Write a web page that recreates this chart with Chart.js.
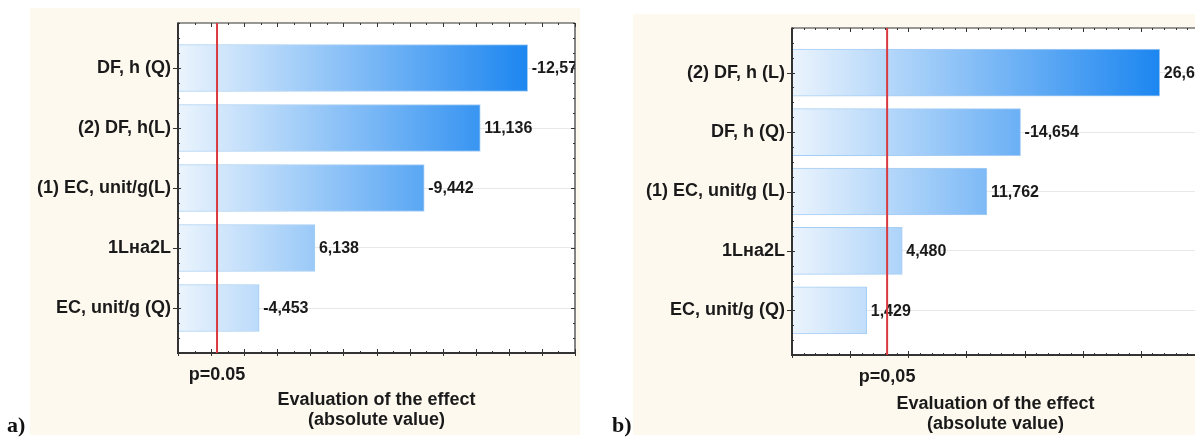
<!DOCTYPE html>
<html>
<head>
<meta charset="utf-8">
<script src="https://cdn.jsdelivr.net/npm/chart.js@4.4.1/dist/chart.umd.min.js"></script>
<style>
  html, body { margin: 0; padding: 0; background: #fff; overflow: hidden; }
  body { width: 1195px; height: 439px; position: relative; }
  .panel { position: absolute; background: #fdf9ef; }
  #bgA { left: 30px; top: 8px; width: 550px; height: 427px; }
  #bgB { left: 633px; top: 14px; width: 562px; height: 421px; }
  .wrap { position: absolute; top: 0; height: 439px; }
  #wrapA { left: 0; width: 590px; }
  #wrapB { left: 600px; width: 640px; }
  .tag { position: absolute; top: 412px; font: bold 22px "Liberation Serif", "Times New Roman", serif; color: #111; }
</style>
</head>
<body>
<div class="panel" id="bgA"></div>
<div class="panel" id="bgB"></div>
<div class="wrap" id="wrapA"><canvas id="chartA"></canvas></div>
<div class="wrap" id="wrapB"><canvas id="chartB"></canvas></div>
<div class="tag" style="left:7px">a)</div>
<div class="tag" style="left:612px">b)</div>

<script>
"use strict";

// panel a
const categoriesA = ["DF, h (Q)", "(2) DF, h(L)", "(1) EC, unit/g(L)", "1Lна2L", "EC, unit/g (Q)"];
const effectsA = [-12.57, 11.136, -9.442, 6.138, -4.453];
const pLabelA = "p=0.05";

// panel b
const categoriesB = ["(2) DF, h (L)", "DF, h (Q)", "(1) EC, unit/g (L)", "1Lна2L", "EC, unit/g (Q)"];
const effectsB = [26.63, -14.654, 11.762, 4.48, 1.429];
const pLabelB = "p=0,05";

// critical t value for p = 0.05
const criticalValue = 3.18;

const axisTitle = ["Evaluation of the effect", "(absolute value)"];

Chart.defaults.font.family = "'Liberation Sans', Arial, sans-serif";
Chart.defaults.color = "#1a1a1a";

function formatEffect(v) {
  return v.toFixed(3).replace(".", ",");
}

function barFill(context, maxVal) {
  const chart = context.chart;
  const area = chart.chartArea;
  if (!area) return "#8fc1f5";
  const end = chart.scales.x.getPixelForValue(maxVal);
  const g = chart.ctx.createLinearGradient(area.left, 0, end, 0);
  g.addColorStop(0, "#ebf4fd");
  g.addColorStop(1, "#1c86f0");
  return g;
}

const framePlugin = {
  id: "frame",
  beforeDraw(chart) {
    const { ctx, chartArea: a } = chart;
    ctx.save();
    ctx.fillStyle = "#ffffff";
    ctx.fillRect(a.left, a.top, a.right - a.left, a.bottom - a.top);
    ctx.restore();
  },
  afterDatasetsDraw(chart, args, opts) {
    const { ctx, chartArea: a } = chart;
    const meta = chart.getDatasetMeta(0);
    ctx.save();
    ctx.beginPath();
    ctx.rect(a.left, a.top, a.right - a.left, a.bottom - a.top);
    ctx.clip();
    ctx.font = "bold 16px 'Liberation Sans', Arial, sans-serif";
    ctx.fillStyle = "#1a1a1a";
    ctx.textBaseline = "middle";
    ctx.textAlign = "left";
    meta.data.forEach((bar, i) => {
      ctx.fillText(formatEffect(opts.values[i]), bar.x + 4, bar.y + 1);
    });
    ctx.restore();
  },
  afterDraw(chart, args, opts) {
    const { ctx, chartArea: a, scales: { x, y } } = chart;
    ctx.save();
    ctx.strokeStyle = "#333333";

    const seg = (x1, y1, x2, y2) => {
      ctx.beginPath();
      ctx.moveTo(x1, y1);
      ctx.lineTo(x2, y2);
      ctx.stroke();
    };

    // x ticks top and bottom
    ctx.lineWidth = 1;
    const steps = Math.round((x.max - x.min) / opts.minor);
    for (let k = 0; k <= steps; k++) {
      const v = x.min + k * opts.minor;
      const px = Math.round(x.getPixelForValue(v)) + 0.5;
      const r = v / opts.major;
      const major = Math.abs(r - Math.round(r)) < 1e-6;
      const len = major ? 4 : 2;
      seg(px, a.top, px, a.top + len);
      seg(px, a.bottom - len, px, a.bottom + (major ? 3 : 0));
    }

    // y ticks left and right
    const ySteps = Math.round((y.max - y.min) / 0.25);
    for (let k = 0; k <= ySteps; k++) {
      const v = y.min + k * 0.25;
      const py = Math.round(y.getPixelForValue(v)) + 0.5;
      const major = Math.abs(v - Math.round(v)) < 1e-6;
      if (major) {
        seg(a.left - 5, py, a.left + 3, py);
        seg(a.right - 4, py, a.right, py);
      } else {
        seg(a.left, py, a.left + 2, py);
        seg(a.right - 2, py, a.right, py);
      }
    }

    // frame
    ctx.lineWidth = 1.2;
    seg(a.left, a.top, a.right, a.top);
    seg(a.right, a.top, a.right, a.bottom);
    ctx.lineWidth = 2;
    seg(a.left, a.top - 0.6, a.left, a.bottom + 1);
    seg(a.left - 1, a.bottom, a.right + 0.6, a.bottom);

    // significance line
    const rx = x.getPixelForValue(opts.critical);
    ctx.strokeStyle = "#d93a3f";
    ctx.lineWidth = 2;
    seg(rx, a.top, rx, a.bottom);

    ctx.font = "bold 18px 'Liberation Sans', Arial, sans-serif";
    ctx.fillStyle = "#1a1a1a";
    ctx.textAlign = "center";
    ctx.textBaseline = "alphabetic";
    ctx.fillText(opts.pLabel, rx, a.bottom + 27);
    ctx.restore();
  },
};

function makeChart(id, categories, effects, pLabel, cfg) {
  const maxVal = Math.max(...effects.map(Math.abs));
  return new Chart(document.getElementById(id), {
    type: "bar",
    data: {
      datasets: [
        {
          data: effects.map((v, i) => ({ x: Math.abs(v), y: i })),
          base: cfg.min,
          barThickness: 47,
          backgroundColor: (context) => barFill(context, maxVal),
          borderColor: "#a6cdf3",
          borderWidth: 1,
        },
      ],
    },
    options: {
      indexAxis: "y",
      responsive: true,
      maintainAspectRatio: false,
      animation: false,
      layout: { padding: { top: cfg.top, right: cfg.right, left: 0, bottom: 0 } },
      plugins: {
        legend: { display: false },
        tooltip: { enabled: false },
        frame: { values: effects, pLabel: pLabel, critical: criticalValue, major: cfg.major, minor: cfg.minor },
      },
      scales: {
        x: {
          type: "linear",
          min: cfg.min,
          max: cfg.max,
          grid: { display: false },
          border: { display: false },
          ticks: { display: false },
          title: {
            display: true,
            text: axisTitle,
            color: "#1a1a1a",
            font: { size: 18, weight: "bold", lineHeight: 1.1 },
            padding: { top: 0, bottom: cfg.titlePad },
          },
          afterFit: (s) => { s.height = cfg.xHeight; },
        },
        y: {
          type: "linear",
          reverse: true,
          offset: false,
          min: -0.75,
          max: 4.75,
          afterBuildTicks: (s) => { s.ticks = categories.map((c, i) => ({ value: i })); },
          ticks: {
            callback: (v) => categories[v],
            color: "#1a1a1a",
            font: { size: 18, weight: "bold" },
            padding: 7,
            autoSkip: false,
          },
          grid: { color: "#e8e8e8", drawTicks: false, offset: false },
          border: { display: false },
          afterFit: (s) => { s.width = cfg.leftWidth; },
        },
      },
    },
    plugins: [framePlugin],
  });
}

makeChart("chartA", categoriesA, effectsA, pLabelA, {
  min: 2, max: 14, major: 1, minor: 0.5,
  top: 23, right: 15, leftWidth: 178, xHeight: 86, titlePad: 9,
});

makeChart("chartB", categoriesB, effectsB, pLabelB, {
  min: -5, max: 30, major: 5, minor: 1,
  top: 28, right: 41, leftWidth: 192, xHeight: 84, titlePad: 5,
});
</script>
</body>
</html>
